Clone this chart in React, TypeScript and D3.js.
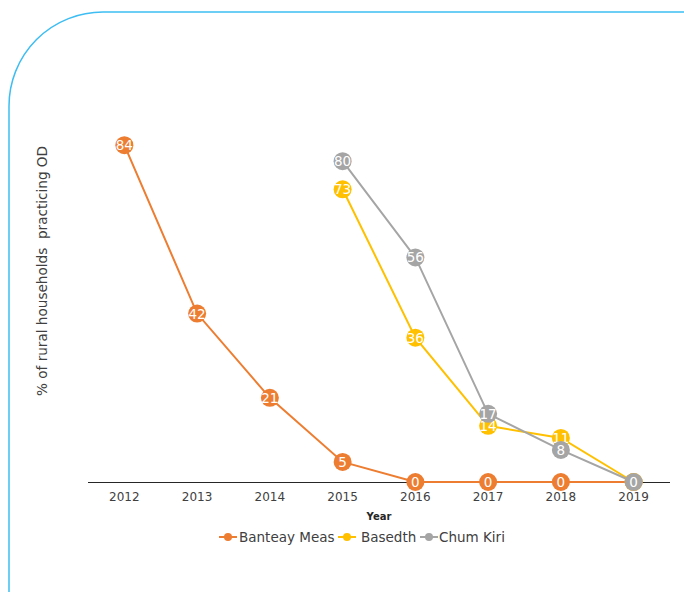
import React from "react";
import * as d3 from "d3";

const years = ["2012", "2013", "2014", "2015", "2016", "2017", "2018", "2019"];
const banteayMeas: (number | null)[] = [84, 42, 21, 5, 0, 0, 0, 0];
const basedth: (number | null)[] = [null, null, null, 73, 36, 14, 11, 0];
const chumKiri: (number | null)[] = [null, null, null, 80, 56, 17, 8, 0];
const seriesNames = ["Banteay Meas", "Basedth", "Chum Kiri"];
const seriesColors = ["#ED7D31", "#FFC000", "#A5A5A5"];

const W = 684;
const H = 592;
const FONT = "Verdana, 'DejaVu Sans', sans-serif";

export default function App() {
  const x = d3.scaleBand<string>().domain(years).range([88, 670]);
  const y = d3.scaleLinear().domain([0, 100]).range([482, 81]);
  const cx = (yr: string) => (x(yr) as number) + x.bandwidth() / 2;
  const allSeries = [banteayMeas, basedth, chumKiri];
  const line = d3
    .line<{ yr: string; v: number | null }>()
    .defined((d) => d.v !== null)
    .x((d) => cx(d.yr))
    .y((d) => y(d.v as number));

  const legendItems = [
    { x: 219, textX: 239 },
    { x: 338, textX: 361 },
    { x: 420, textX: 439 },
  ];

  return (
    <svg
      width={W}
      height={H}
      style={{ position: "absolute", left: 0, top: 0, background: "#fff" }}
    >
      <path
        d={`M 9 ${H} L 9 106 A 94 94 0 0 1 103 12 L ${W} 12`}
        fill="none"
        stroke="#3DBDF2"
        strokeWidth={1.5}
      />
      <line x1={88} x2={670} y1={y(0) + 0.5} y2={y(0) + 0.5} stroke="#262626" strokeWidth={1} />
      {years.map((yr) => (
        <text
          key={yr}
          x={cx(yr)}
          y={501}
          textAnchor="middle"
          fontFamily={FONT}
          fontSize={12}
          fill="#404040"
        >
          {yr}
        </text>
      ))}
      <text
        x={379}
        y={520}
        textAnchor="middle"
        fontFamily={FONT}
        fontSize={10}
        fontWeight="bold"
        fill="#262626"
      >
        Year
      </text>
      <text
        transform={`translate(47, ${271}) rotate(-90)`}
        textAnchor="middle"
        fontFamily={FONT}
        fontSize={13.6}
        fill="#404040"
        xmlSpace="preserve"
      >
        {"% of rural households  practicing OD"}
      </text>
      {allSeries.map((s, i) => (
        <path
          key={"l" + i}
          d={line(years.map((yr, j) => ({ yr, v: s[j] }))) || ""}
          fill="none"
          stroke={seriesColors[i]}
          strokeWidth={2}
        />
      ))}
      {allSeries.map((s, i) =>
        years.map((yr, j) =>
          s[j] === null ? null : (
            <g key={`p${i}-${j}`}>
              <circle cx={cx(yr)} cy={y(s[j] as number)} r={9} fill={seriesColors[i]} />
              <text
                x={cx(yr)}
                y={y(s[j] as number) + 5}
                textAnchor="middle"
                fontFamily={FONT}
                fontSize={13.5}
                fill="#fff"
              >
                {s[j]}
              </text>
            </g>
          )
        )
      )}
      {seriesNames.map((n, i) => (
        <g key={n}>
          <line
            x1={legendItems[i].x}
            x2={legendItems[i].x + 18}
            y1={537}
            y2={537}
            stroke={seriesColors[i]}
            strokeWidth={2}
          />
          <circle cx={legendItems[i].x + 9} cy={537} r={4} fill={seriesColors[i]} />
          <text
            x={legendItems[i].textX}
            y={542}
            fontFamily={FONT}
            fontSize={13.5}
            fill="#404040"
          >
            {n}
          </text>
        </g>
      ))}
    </svg>
  );
}
